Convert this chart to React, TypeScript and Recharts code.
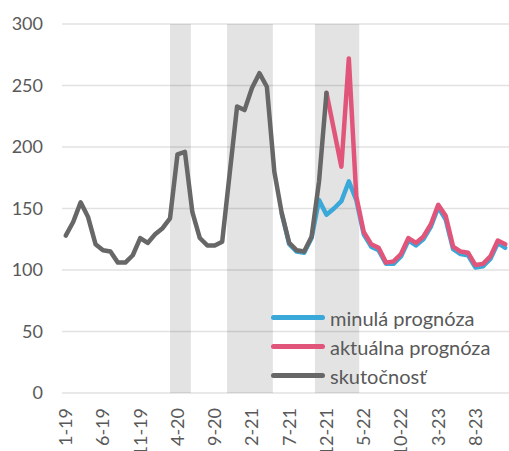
import React from "react";
import {
  LineChart,
  Line,
  XAxis,
  YAxis,
  CartesianGrid,
  ReferenceArea,
  Legend,
} from "recharts";

// mesiace 1-19 ... 12-23
const categories = [
  "1-19", "2-19", "3-19", "4-19", "5-19", "6-19", "7-19", "8-19", "9-19", "10-19", "11-19", "12-19",
  "1-20", "2-20", "3-20", "4-20", "5-20", "6-20", "7-20", "8-20", "9-20", "10-20", "11-20", "12-20",
  "1-21", "2-21", "3-21", "4-21", "5-21", "6-21", "7-21", "8-21", "9-21", "10-21", "11-21", "12-21",
  "1-22", "2-22", "3-22", "4-22", "5-22", "6-22", "7-22", "8-22", "9-22", "10-22", "11-22", "12-22",
  "1-23", "2-23", "3-23", "4-23", "5-23", "6-23", "7-23", "8-23", "9-23", "10-23", "11-23", "12-23",
];

const tickLabels = ["1-19", "6-19", "11-19", "4-20", "9-20", "2-21", "7-21", "12-21", "5-22", "10-22", "3-23", "8-23"];

const actual = [
  128, 139, 155, 143, 121, 116, 115, 106, 106, 112, 126, 122,
  129, 134, 142, 194, 196, 147, 126, 120, 120, 123, 178, 233,
  230, 248, 260, 249, 180, 146, 122, 116, 115, 127, 172, 244,
];

// minulá prognóza, od 6-21
const pastStart = 29;
const pastForecast = [
  146, 121, 115, 114, 126, 157, 145,
  150, 156, 172, 157, 129, 119, 116, 105, 105, 111, 124, 120,
  125, 135, 151, 141, 117, 113, 112, 102, 103, 109, 122, 118,
];

// aktuálna prognóza, od 12-21
const currentStart = 35;
const currentForecast = [
  244,
  214, 184, 272, 160, 131, 121, 118, 106, 107, 113, 126, 122,
  127, 137, 153, 144, 119, 115, 114, 104, 105, 111, 124, 121,
];

// sivé pásma (v jednotkách mesiacov)
const shading = [
  [14.0, 16.8],
  [21.65, 27.8],
  [33.45, 39.4],
];

const yTicks = [0, 50, 100, 150, 200, 250, 300];

const series = [
  { key: "past", name: "minulá prognóza", color: "#3AA8D8" },
  { key: "current", name: "aktuálna prognóza", color: "#E2557A" },
  { key: "actual", name: "skutočnosť", color: "#676767" },
];

const data = categories.map((label, i) => ({
  idx: i,
  label,
  actual: i < actual.length ? actual[i] : null,
  past: i >= pastStart ? pastForecast[i - pastStart] : null,
  current: i >= currentStart ? currentForecast[i - currentStart] : null,
}));

const FONT = "Lato, 'Open Sans', sans-serif";
const TEXT = "#595959";

const XTick = (props: any) => {
  const { x, y, payload } = props;
  return (
    <g transform={`translate(${x},${y})`}>
      <text
        transform="rotate(-90)"
        x={-15}
        y={0}
        dy="0.36em"
        textAnchor="end"
        fill={TEXT}
        fontSize={18}
        fontFamily={FONT}
      >
        {categories[payload.value]}
      </text>
    </g>
  );
};

const renderLegend = () => (
  <div style={{ fontFamily: FONT }}>
    {series.map((s) => (
      <div key={s.key} style={{ display: "flex", alignItems: "center", height: 29 }}>
        <span
          style={{
            display: "inline-block",
            width: 54,
            height: 5,
            borderRadius: 3,
            background: s.color,
            marginRight: 5,
          }}
        />
        <span style={{ fontSize: 20, color: TEXT, whiteSpace: "nowrap" }}>{s.name}</span>
      </div>
    ))}
  </div>
);

export default function App() {
  return (
    <div style={{ position: "absolute", left: 0, top: 0, background: "#fff" }}>
      <LineChart
        width={509}
        height={451}
        data={data}
        margin={{ top: 24, right: 0, bottom: 0, left: 0 }}
      >
        {shading.map(([a, b], i) => (
          <ReferenceArea
            key={i}
            x1={a}
            x2={b}
            y1={0}
            y2={300}
            fill="#000"
            fillOpacity={0.11}
            stroke="none"
          />
        ))}
        <CartesianGrid vertical={false} stroke="#E2E2E2" strokeWidth={1.5} />
        <XAxis
          dataKey="idx"
          type="number"
          domain={[-0.5, 59.5]}
          ticks={tickLabels.map((l) => categories.indexOf(l))}
          interval={0}
          axisLine={false}
          tickLine={false}
          tickSize={0}
          tickMargin={0}
          height={58}
          tick={<XTick />}
        />
        <YAxis
          domain={[0, 300]}
          ticks={yTicks}
          width={62}
          axisLine={false}
          tickLine={false}
          tickSize={0}
          tickMargin={19}
          tick={{ fill: TEXT, fontSize: 18, fontFamily: FONT }}
        />
        {series.map((s) => (
          <Line
            key={s.key}
            dataKey={s.key}
            name={s.name}
            type="linear"
            stroke={s.color}
            strokeWidth={4.5}
            strokeLinejoin="round"
            strokeLinecap="round"
            dot={false}
            activeDot={false}
            isAnimationActive={false}
          />
        ))}
        <Legend
          layout="vertical"
          align="center"
          verticalAlign="middle"
          wrapperStyle={{ left: 271, top: 303, width: "auto" }}
          content={renderLegend}
        />
      </LineChart>
    </div>
  );
}
